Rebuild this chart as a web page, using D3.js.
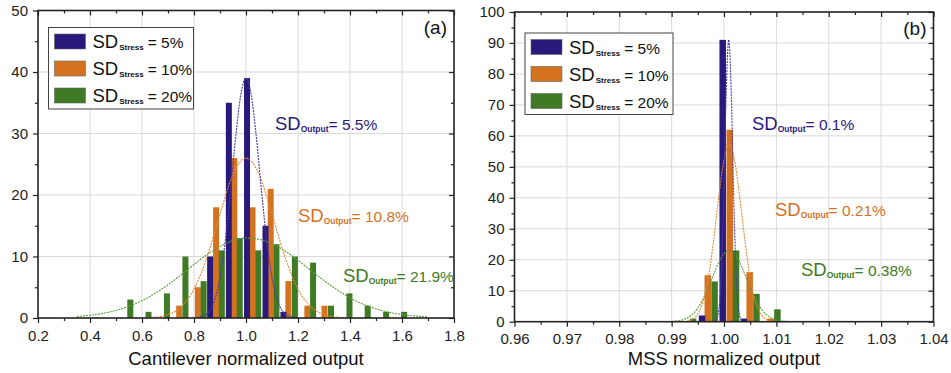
<!DOCTYPE html>
<meta charset="utf-8">
<style>
body { margin: 0; background: #fff; }
svg { display: block; font-family: "Liberation Sans", Arial, sans-serif; }
</style>
<svg width="951" height="373"></svg>
<script src="https://d3js.org/d3.v7.min.js"></script>
<script>

// ---- panel (a) : cantilever ----
var aXTicks = [0.2, 0.4, 0.6, 0.8, 1.0, 1.2, 1.4, 1.6, 1.8]
var aYTicks = [0, 10, 20, 30, 40, 50]

var aBlueX = [0.862, 0.934, 1.004, 1.075, 1.144]
var aBlueN = [10, 35, 39, 15, 1]
var aOrangeX = [0.743, 0.815, 0.885, 0.955, 1.025, 1.095, 1.163, 1.236, 1.302]
var aOrangeN = [2, 5, 18, 26, 18, 21, 6, 2, 2]
var aGreenX = [0.555, 0.625, 0.696, 0.767, 0.837, 0.907, 0.976, 1.047, 1.117, 1.188, 1.258, 1.327, 1.398, 1.468, 1.539, 1.608]
var aGreenN = [3, 1, 4, 10, 6, 11, 13, 11, 12, 10, 9, 2, 4, 2, 1, 1]

// fitted curves
var aBlueFit = [[0.80,0.03],[0.84,0.4],[0.88,3.0],[0.90,6.6],[0.92,12.5],[0.94,20.5],[0.96,29.3],[0.98,36.3],[1.00,39],
  [1.02,36.3],[1.04,29.3],[1.06,20.5],[1.08,12.5],[1.10,6.6],[1.12,3.0],[1.16,0.4],[1.20,0.03]]
var aOrangeFit = [[0.60,0.03],[0.65,0.14],[0.70,0.55],[0.75,1.8],[0.80,4.7],[0.85,9.9],[0.90,16.9],[0.95,23.4],[1.00,26],
  [1.05,23.4],[1.10,16.9],[1.15,9.9],[1.20,4.7],[1.25,1.8],[1.30,0.55],[1.35,0.14],[1.40,0.03]]
var aGreenFit = [[0.35,0.25],[0.40,0.45],[0.45,0.76],[0.50,1.23],[0.55,1.9],[0.60,2.8],[0.65,4.0],[0.70,5.4],[0.75,7.0],
  [0.80,8.7],[0.85,10.3],[0.90,11.6],[0.95,12.6],[1.00,13],[1.05,12.8],[1.10,12.1],[1.15,10.9],[1.20,9.4],[1.25,7.7],
  [1.30,6.1],[1.35,4.6],[1.40,3.3],[1.45,2.25],[1.50,1.5],[1.55,0.93],[1.60,0.56],[1.65,0.32],[1.70,0.17]]

// ---- panel (b) : MSS ----
var bXTicks = [0.96, 0.97, 0.98, 0.99, 1.00, 1.01, 1.02, 1.03, 1.04]
var bYTicks = [0, 10, 20, 30, 40, 50, 60, 70, 80, 90, 100]

var bBlueX = [0.9958, 0.99975, 1.0038]
var bBlueN = [2, 91, 1]
var bOrangeX = [0.9969, 1.0011, 1.0049, 1.0089]
var bOrangeN = [15, 62, 16, 1]
var bGreenX = [0.9941, 0.9982, 1.0023, 1.0062, 1.0102]
var bGreenN = [1, 13, 23, 9, 4]

var bBlueFit = [[0.9979,0.03],[0.9984,0.35],[0.9989,2.6],[0.9994,12.3],[0.9999,37.4],[1.0004,72.9],[1.0009,91],
  [1.0014,72.9],[1.0019,37.4],[1.0024,12.3],[1.0029,2.6],[1.0034,0.35],[1.0039,0.03]]
var bOrangeFit = [[0.993,0.22],[0.994,0.81],[0.995,2.5],[0.996,6.5],[0.997,14.2],[0.998,26.1],[0.999,40.3],[1.000,52.3],
  [1.001,57],[1.002,52.3],[1.003,40.3],[1.004,26.1],[1.005,14.2],[1.006,6.5],[1.007,2.5],[1.008,0.81],[1.009,0.22]]
var bGreenFit = [[0.989,0.03],[0.990,0.09],[0.991,0.23],[0.992,0.56],[0.993,1.22],[0.994,2.42],[0.995,4.4],[0.996,7.3],
  [0.997,11.0],[0.998,15.2],[0.999,19.1],[1.000,22.0],[1.001,23],[1.002,22.0],[1.003,19.1],[1.004,15.2],[1.005,11.0],
  [1.006,7.3],[1.007,4.4],[1.008,2.42],[1.009,1.22],[1.010,0.56],[1.011,0.23],[1.012,0.09],[1.013,0.03]]

var legendPct = ['5%', '10%', '20%']
var aOutput = ['5.5%', '10.8%', '21.9%']
var bOutput = ['0.1%', '0.21%', '0.38%']

var blue = '#29197b', orange = '#d4721f', green = '#3f7a25'
var blueLine = '#4b3aa6', orangeLine = '#e38a36', greenLine = '#5c9c3c'

var svg = d3.select('svg')

function midpoints(t) {
  return d3.pairs(t).map(function (p) { return (p[0] + p[1]) / 2 })
}

function drawPanel(p) {
  var x = d3.scaleLinear().domain([p.xTicks[0], p.xTicks[p.xTicks.length - 1]]).range([p.left, p.right])
  var y = d3.scaleLinear().domain([p.yTicks[0], p.yTicks[p.yTicks.length - 1]]).range([p.bottom, p.top])
  var g = svg.append('g')

  // grid
  g.selectAll('.gx').data(p.xTicks.slice(1, -1)).enter().append('line')
    .attr('x1', function (d) { return x(d) }).attr('x2', function (d) { return x(d) })
    .attr('y1', p.top).attr('y2', p.bottom)
    .attr('stroke', '#d9d9d9').attr('stroke-width', 1)
  g.selectAll('.gy').data(p.yTicks.slice(1, -1)).enter().append('line')
    .attr('y1', function (d) { return y(d) }).attr('y2', function (d) { return y(d) })
    .attr('x1', p.left).attr('x2', p.right)
    .attr('stroke', '#d9d9d9').attr('stroke-width', 1)

  // bars
  var series = [[p.orangeX, p.orangeN, orange], [p.greenX, p.greenN, green], [p.blueX, p.blueN, blue]]
  series.forEach(function (s) {
    var data = s[0].map(function (v, i) { return [v, s[1][i]] })
    g.append('g').selectAll('rect').data(data).enter().append('rect')
      .attr('x', function (d) { return x(d[0]) - p.barW / 2 })
      .attr('width', p.barW)
      .attr('y', function (d) { return y(d[1]) })
      .attr('height', function (d) { return y(0) - y(d[1]) })
      .attr('fill', s[2])
  })

  // fit curves
  var line = d3.line().curve(d3.curveMonotoneX)
    .x(function (d) { return x(d[0]) }).y(function (d) { return y(d[1]) })
  ;[[p.greenFit, greenLine], [p.orangeFit, orangeLine], [p.blueFit, blueLine]].forEach(function (c) {
    g.append('path').datum(c[0]).attr('d', line)
      .attr('fill', 'none').attr('stroke', c[1]).attr('stroke-width', 1.1)
      .attr('stroke-dasharray', '2,1')
  })

  // axes
  var xMinor = midpoints(p.xTicks), yMinor = midpoints(p.yTicks)
  function styleAxis(sel) {
    sel.select('.domain').remove()
    sel.selectAll('line').attr('stroke', '#222').attr('stroke-width', 1.2)
    sel.selectAll('text').attr('fill', '#222').style('font-size', '15px')
  }
  g.append('g').attr('transform', 'translate(0,' + p.bottom + ')')
    .call(d3.axisBottom(x).tickValues(xMinor).tickSize(3).tickFormat('')).call(styleAxis)
  g.append('g').attr('transform', 'translate(0,' + p.bottom + ')')
    .call(d3.axisBottom(x).tickValues(p.xTicks).tickSize(5).tickPadding(7).tickFormat(d3.format(p.xFmt))).call(styleAxis)
  g.append('g').attr('transform', 'translate(0,' + p.top + ')')
    .call(d3.axisBottom(x).tickValues(xMinor).tickSize(3).tickFormat('')).call(styleAxis)
  g.append('g').attr('transform', 'translate(0,' + p.top + ')')
    .call(d3.axisBottom(x).tickValues(p.xTicks).tickSize(5).tickFormat('')).call(styleAxis)
  g.append('g').attr('transform', 'translate(' + p.left + ',0)')
    .call(d3.axisLeft(y).tickValues(yMinor).tickSize(3).tickFormat('')).call(styleAxis)
  g.append('g').attr('transform', 'translate(' + p.left + ',0)')
    .call(d3.axisLeft(y).tickValues(p.yTicks).tickSize(5).tickPadding(5)).call(styleAxis)
  g.append('g').attr('transform', 'translate(' + p.right + ',0)')
    .call(d3.axisLeft(y).tickValues(yMinor).tickSize(3).tickFormat('')).call(styleAxis)
  g.append('g').attr('transform', 'translate(' + p.right + ',0)')
    .call(d3.axisLeft(y).tickValues(p.yTicks).tickSize(5).tickFormat('')).call(styleAxis)

  g.append('rect').attr('x', p.left).attr('y', p.top)
    .attr('width', p.right - p.left).attr('height', p.bottom - p.top)
    .attr('fill', 'none').attr('stroke', '#222').attr('stroke-width', 1.6)

  // axis title
  g.append('text').attr('x', (p.left + p.right) / 2).attr('y', 365)
    .attr('text-anchor', 'middle').style('font-size', '18.5px').attr('fill', '#111')
    .text(p.title)

  // panel tag
  g.append('text').attr('x', p.right - 7).attr('y', p.top + 23)
    .attr('text-anchor', 'end').style('font-size', '19px').attr('fill', '#111')
    .text(p.tag)

  // legend
  var lg = p.legend
  g.append('rect').attr('x', lg.x).attr('y', lg.y).attr('width', lg.w).attr('height', lg.h)
    .attr('fill', '#fff').attr('stroke', '#444').attr('stroke-width', 1)
  ;[blue, orange, green].forEach(function (col, i) {
    var cy = lg.y + 14 + i * 27
    g.append('rect').attr('x', lg.x + 6).attr('y', cy - 7.5).attr('width', 31).attr('height', 15)
      .attr('fill', col).attr('stroke', '#666').attr('stroke-width', 0.6)
    var t = g.append('text').attr('x', lg.x + 44).attr('y', cy + 6.5).attr('fill', '#111')
    t.append('tspan').style('font-size', '18.5px').text('SD')
    t.append('tspan').style('font-size', '8px').style('font-weight', 'bold').attr('dx', 1).attr('dy', 2).text('Stress')
    t.append('tspan').style('font-size', '15.5px').attr('dx', 4).attr('dy', -2).text('= ' + legendPct[i])
  })

  // SD output notes
  p.notes.forEach(function (n, i) {
    var t = g.append('text').attr('x', n[0]).attr('y', n[1]).attr('fill', [blue, orange, green][i])
    t.append('tspan').style('font-size', '18.5px').text('SD')
    t.append('tspan').style('font-size', '8.5px').style('font-weight', 'bold').attr('dy', 2).text('Output')
    t.append('tspan').style('font-size', '15.5px').attr('dy', -2).text('= ' + p.outputs[i])
  })
}

drawPanel({
  left: 38, right: 454, top: 10.5, bottom: 318,
  xTicks: aXTicks, yTicks: aYTicks, xFmt: '.1f', barW: 6,
  blueX: aBlueX, blueN: aBlueN, orangeX: aOrangeX, orangeN: aOrangeN, greenX: aGreenX, greenN: aGreenN,
  blueFit: aBlueFit, orangeFit: aOrangeFit, greenFit: aGreenFit,
  title: 'Cantilever normalized output', tag: '(a)',
  legend: {x: 48.5, y: 27.5, w: 145, h: 81.5},
  notes: [[275, 130], [298, 222], [343, 282]], outputs: aOutput
})

drawPanel({
  left: 514.5, right: 933.5, top: 12, bottom: 321.7,
  xTicks: bXTicks, yTicks: bYTicks, xFmt: '.2f', barW: 6.5,
  blueX: bBlueX, blueN: bBlueN, orangeX: bOrangeX, orangeN: bOrangeN, greenX: bGreenX, greenN: bGreenN,
  blueFit: bBlueFit, orangeFit: bOrangeFit, greenFit: bGreenFit,
  title: 'MSS normalized output', tag: '(b)',
  legend: {x: 525, y: 33, w: 148, h: 81.5},
  notes: [[752, 130], [775, 216], [801, 276]], outputs: bOutput
})

</script>
